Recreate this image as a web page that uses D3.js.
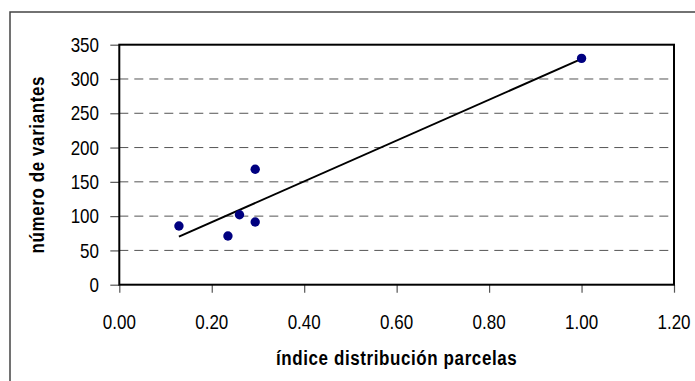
<!DOCTYPE html>
<html><head><meta charset="utf-8">
<script src="https://cdn.jsdelivr.net/npm/d3@7"></script>
<style>body{margin:0;background:#fff;overflow:hidden} text{font-family:"Liberation Sans",Arial,sans-serif;fill:#000}</style>
</head><body><svg id="c" width="695" height="381"></svg>
<script>
const xValues = [0.129, 0.235, 0.260, 0.294, 0.294, 1.0];
const yValues = [85.6, 71, 102, 91.4, 168.3, 330];
const xTicks = [0, 0.2, 0.4, 0.6, 0.8, 1.0, 1.2];
const yTicks = [0, 50, 100, 150, 200, 250, 300, 350];
const xTitle = "índice distribución parcelas";
const yTitle = "número de variantes";

const svg = d3.select("#c");
const L = 119.3, R = 674, T = 44.7, B = 284.7;
const x = d3.scaleLinear().domain([0, 1.2]).range([L, R]);
const y = d3.scaleLinear().domain([0, 350]).range([B, T]);

// outer frame
svg.append("path").attr("d", "M10,390 L10,12 L700,12").attr("fill", "none")
  .attr("stroke", "#444").attr("stroke-width", 1.5);

// grid
svg.append("g").selectAll("line").data(yTicks.filter(d => d > 0 && d < 350)).join("line")
  .attr("x1", L).attr("x2", R).attr("y1", d => y(d)).attr("y2", d => y(d))
  .attr("stroke", "#555").attr("stroke-width", 1).attr("stroke-dasharray", "9,6");

// axes
const yAxis = svg.append("g").attr("transform", `translate(${L},0)`)
  .call(d3.axisLeft(y).tickValues(yTicks).tickSize(9).tickFormat(""));
const xAxis = svg.append("g").attr("transform", `translate(0,${B})`)
  .call(d3.axisBottom(x).tickValues(xTicks).tickSize(8).tickFormat(""));
[yAxis, xAxis].forEach(g => {
  g.select(".domain").remove();
  g.selectAll(".tick line").attr("stroke", "#555").attr("stroke-width", 1.2);
});

// plot border
svg.append("rect").attr("x", L).attr("y", T).attr("width", R - L).attr("height", B - T)
  .attr("fill", "none").attr("stroke", "#000").attr("stroke-width", 2);

// tick labels
const sy = 1.2;
svg.append("g").selectAll("text").data(yTicks).join("text")
  .attr("transform", d => `translate(99,${y(d)}) scale(1,${sy})`)
  .attr("text-anchor", "end").attr("dy", "0.35em").attr("font-size", 17)
  .text(d => d);
svg.append("g").selectAll("text").data(xTicks).join("text")
  .attr("transform", d => `translate(${x(d)},322) scale(1,${sy})`)
  .attr("text-anchor", "middle").attr("dy", "0.35em").attr("font-size", 17)
  .text(d => d.toFixed(2));

// titles
svg.append("text").attr("transform", `translate(${(L + R) / 2},358) scale(1,1.15)`)
  .attr("text-anchor", "middle").attr("dy", "0.35em").attr("font-size", 17)
  .attr("font-weight", "bold").attr("letter-spacing", 0.6).text(xTitle);
svg.append("text").attr("transform", `translate(37,${(T + B) / 2}) rotate(-90) scale(1,1.15)`)
  .attr("text-anchor", "middle").attr("dy", "0.35em").attr("font-size", 17)
  .attr("font-weight", "bold").attr("letter-spacing", 0.6).text(yTitle);

// trend line (least squares)
const n = xValues.length;
const mx = d3.mean(xValues), my = d3.mean(yValues);
let sxy = 0, sxx = 0;
for (let i = 0; i < n; i++) { sxy += (xValues[i] - mx) * (yValues[i] - my); sxx += (xValues[i] - mx) ** 2; }
const slope = sxy / sxx, icpt = my - slope * mx;
const x0 = d3.min(xValues), x1 = d3.max(xValues);
svg.append("line").attr("x1", x(x0)).attr("y1", y(icpt + slope * x0))
  .attr("x2", x(x1)).attr("y2", y(icpt + slope * x1))
  .attr("stroke", "#000").attr("stroke-width", 2);

// points
svg.append("g").selectAll("circle").data(xValues.map((v, i) => [v, yValues[i]])).join("circle")
  .attr("cx", d => x(d[0])).attr("cy", d => y(d[1])).attr("r", 4.7).attr("fill", "#000080");
</script></body></html>
